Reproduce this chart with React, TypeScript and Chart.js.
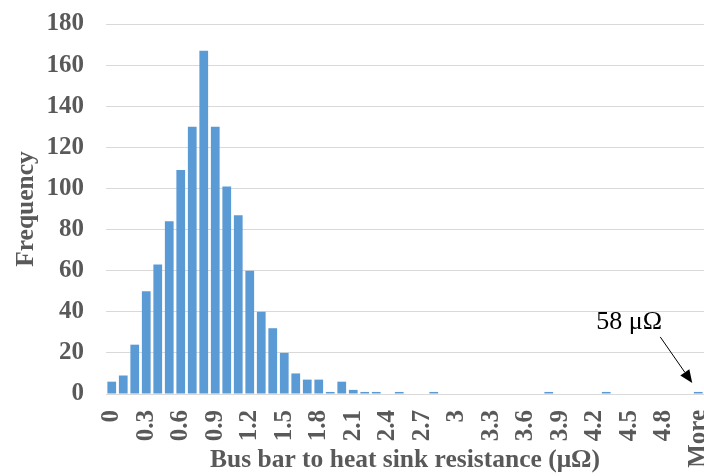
import React, { useEffect, useRef } from "react";
import { Chart, registerables } from "chart.js";

Chart.register(...registerables);

const categories: string[] = [
  "0", "0.1", "0.2", "0.3", "0.4", "0.5", "0.6", "0.7", "0.8", "0.9",
  "1", "1.1", "1.2", "1.3", "1.4", "1.5", "1.6", "1.7", "1.8", "1.9",
  "2", "2.1", "2.2", "2.3", "2.4", "2.5", "2.6", "2.7", "2.8", "2.9",
  "3", "3.1", "3.2", "3.3", "3.4", "3.5", "3.6", "3.7", "3.8", "3.9",
  "4", "4.1", "4.2", "4.3", "4.4", "4.5", "4.6", "4.7", "4.8", "4.9",
  "5", "More",
];

const frequency: number[] = [
  6, 9, 24, 50, 63, 84, 109, 130, 167, 130,
  101, 87, 60, 40, 32, 20, 10, 7, 7, 1,
  6, 2, 1, 1, 0, 1, 0, 0, 1, 0,
  0, 0, 0, 0, 0, 0, 0, 0, 1, 0,
  0, 0, 0, 1, 0, 0, 0, 0, 0, 0,
  0, 1,
];

const yTicks: number[] = [0, 20, 40, 60, 80, 100, 120, 140, 160, 180];

const annotationText = "58 μΩ";

const SERIF = "'Times New Roman', 'Liberation Serif', serif";
const TEXT = "#595959";
const GRID = "#d9d9d9";
const BAR = "#5b9bd5";

const zeroPad = (s: any) => {
  s.paddingLeft = 0;
  s.paddingRight = 0;
  s.paddingTop = 0;
  s.paddingBottom = 0;
};

const annotationPlugin = {
  id: "moreAnnotation",
  afterDatasetsDraw(chart: any) {
    const { ctx, scales } = chart;
    const idx = categories.length - 1;
    const bx = scales.x.getPixelForValue(idx);
    const by = scales.y.getPixelForValue(frequency[idx]);
    const tipX = bx - 6;
    const tipY = by - 9;
    const startX = bx - 38;
    const startY = by - 55;
    ctx.save();
    ctx.strokeStyle = "#000";
    ctx.fillStyle = "#000";
    ctx.lineWidth = 1;
    const ang = Math.atan2(tipY - startY, tipX - startX);
    const headLen = 13;
    const headW = 5.5;
    const baseX = tipX - headLen * Math.cos(ang);
    const baseY = tipY - headLen * Math.sin(ang);
    ctx.beginPath();
    ctx.moveTo(startX, startY);
    ctx.lineTo(baseX, baseY);
    ctx.stroke();
    ctx.beginPath();
    ctx.moveTo(tipX, tipY);
    ctx.lineTo(baseX + headW * Math.sin(ang), baseY - headW * Math.cos(ang));
    ctx.lineTo(baseX - headW * Math.sin(ang), baseY + headW * Math.cos(ang));
    ctx.closePath();
    ctx.fill();
    ctx.font = `26px ${SERIF}`;
    ctx.textAlign = "center";
    ctx.textBaseline = "alphabetic";
    ctx.fillText(annotationText, bx - 69, by - 63);
    ctx.restore();
  },
};

export default function App() {
  const canvasRef = useRef<HTMLCanvasElement | null>(null);

  useEffect(() => {
    document.body.style.margin = "0";
    const canvas = canvasRef.current;
    if (!canvas) return;
    const chart = new Chart(canvas, {
      type: "bar",
      data: {
        labels: categories,
        datasets: [
          {
            data: frequency,
            backgroundColor: BAR,
            borderWidth: 0,
            barPercentage: 0.76,
            categoryPercentage: 1,
          },
        ],
      },
      plugins: [annotationPlugin],
      options: {
        animation: false,
        responsive: false,
        events: [],
        layout: {
          autoPadding: false,
          padding: { top: 24, left: 0, right: 0, bottom: 0 },
        },
        plugins: {
          legend: { display: false },
          tooltip: { enabled: false },
        },
        scales: {
          x: {
            grid: { display: false, drawTicks: false },
            border: { display: true, color: GRID, width: 1 },
            ticks: {
              autoSkip: false,
              minRotation: 90,
              maxRotation: 90,
              padding: 16,
              color: TEXT,
              font: { family: SERIF, size: 25, weight: "bold" },
              callback: (_v: any, i: number) => (i % 3 === 0 ? categories[i] : null),
            },
            title: {
              display: true,
              text: "Bus bar to heat sink resistance (μΩ)",
              color: TEXT,
              font: { family: SERIF, size: 25.5, weight: "bold" },
              padding: { top: 0, bottom: 0 },
            },
            afterFit: (s: any) => {
              s.height = 82;
              zeroPad(s);
            },
          },
          y: {
            min: 0,
            max: 180,
            afterBuildTicks: (s: any) => {
              s.ticks = yTicks.map((v) => ({ value: v }));
            },
            grid: { color: GRID, lineWidth: 1, drawTicks: false },
            border: { display: false },
            ticks: {
              padding: 22,
              color: TEXT,
              font: { family: SERIF, size: 25, weight: "bold" },
            },
            title: {
              display: true,
              text: "Frequency",
              color: TEXT,
              font: { family: SERIF, size: 25.5, weight: "bold" },
              padding: { top: 11, bottom: 0 },
            },
            afterFit: (s: any) => {
              s.width = 106;
              zeroPad(s);
            },
          },
        },
      },
    });
    return () => chart.destroy();
  }, []);

  return (
    <div style={{ width: 704, height: 476 }}>
      <canvas ref={canvasRef} width={704} height={476} />
    </div>
  );
}
